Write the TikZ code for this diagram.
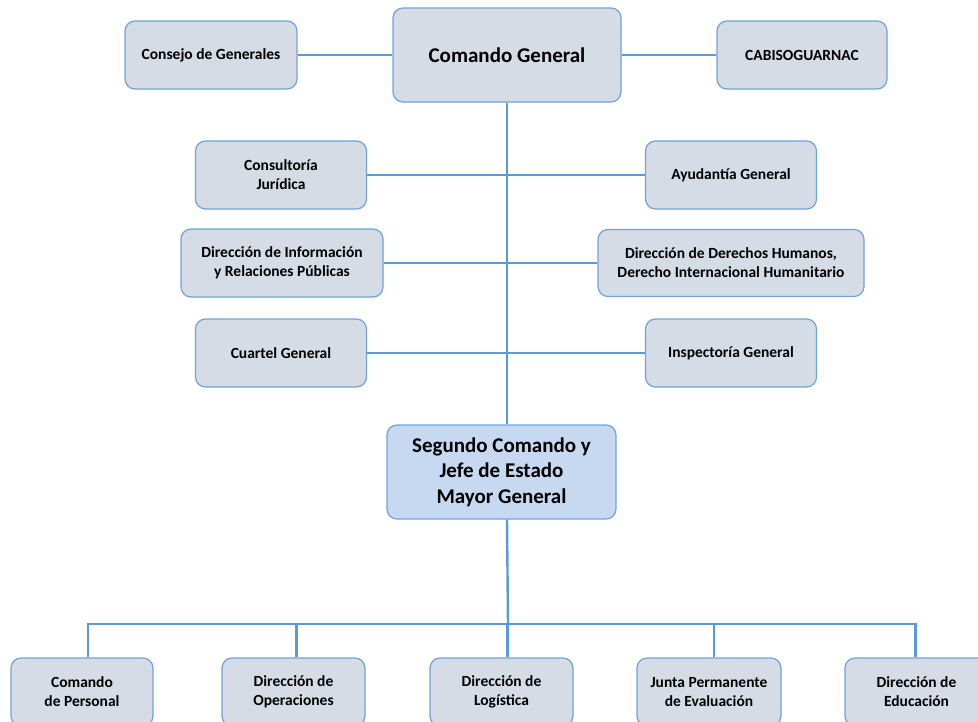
\documentclass[tikz,border=0pt]{standalone}
\usepackage{fontspec}
\setmainfont{Carlito}
\usetikzlibrary{positioning}
\definecolor{boxfill}{HTML}{D6DCE5}
\definecolor{boxfillb}{HTML}{C6D9F1}
\definecolor{boxline}{HTML}{6FA3DC}
\definecolor{linkline}{HTML}{5B9BD5}
\begin{document}
\begin{tikzpicture}[x=1pt, y=-1pt,
  unit/.style={draw=boxline, line width=1.2pt, fill=boxfill, rounded corners=10pt,
    align=center, inner sep=0pt, font=\bfseries\fontsize{15.5}{19}\selectfont},
  bigunit/.style={unit, font=\bfseries\fontsize{21}{25.5}\selectfont},
  link/.style={draw=linkline, line width=2.4pt}]
% Frame of the picture
\useasboundingbox (0,0) rectangle (978,721);
\clip (0,0) rectangle (978,721);
% Top level
\node [bigunit, minimum width=228, minimum height=94] (comando) at (507,55) {Comando General};
\node [unit, minimum width=172, minimum height=68] (consejo) at (211,55) {Consejo de Generales};
\node [unit, minimum width=170, minimum height=68] (cabiso) at (802,55) {CABISOGUARNAC};
\draw [link] (consejo.east) -- (comando.west);
\draw [link] (comando.east) -- (cabiso.west);
% Staff offices
\node [unit, minimum width=171, minimum height=68] (juridica) at (281,175) {Consultoría\\Jurídica};
\node [unit, minimum width=171, minimum height=68] (ayudantia) at (731,175) {Ayudantía General};
\node [unit, minimum width=202, minimum height=68] (informacion) at (282,263) {Dirección de Información\\y Relaciones Públicas};
\node [unit, minimum width=266, minimum height=67] (ddhh) at (731,263) {Dirección de Derechos Humanos,\\Derecho Internacional Humanitario};
\node [unit, minimum width=171, minimum height=68] (cuartel) at (281,353) {Cuartel General};
\node [unit, minimum width=171, minimum height=68] (inspectoria) at (731,353) {Inspectoría General};
\draw [link] (juridica.east) -- (ayudantia.west);
\draw [link] (informacion.east) -- (ddhh.west);
\draw [link] (cuartel.east) -- (inspectoria.west);
% Second command
\node [bigunit, fill=boxfillb, minimum width=229, minimum height=94] (segundo) at (501.5,472) {Segundo Comando y\\Jefe de Estado\\Mayor General};
\draw [link] (comando.south) -- (comando.south |- segundo.north);
% Directorates
\coordinate (bus) at (508,624);
\node [unit, minimum width=142, minimum height=68] (personal) at (82,692) {Comando\\de Personal};
\node [unit, minimum width=143, minimum height=68] (operaciones) at (293.5,692) {Dirección de\\Operaciones};
\node [unit, minimum width=143, minimum height=68] (logistica) at (501.5,692) {Dirección de\\Logística};
\node [unit, minimum width=144, minimum height=68] (junta) at (709,692) {Junta Permanente\\de Evaluación};
\node [unit, minimum width=143, minimum height=68] (educacion) at (916.5,692) {Dirección de\\Educación};
\draw [link] (comando.south |- segundo.south) -- (bus);
\draw [link] ([xshift=6pt]personal.north) |- (bus) -| ([xshift=-1pt]educacion.north);
\draw [link] ([xshift=3pt]operaciones.north) -- ([xshift=3pt]operaciones.north |- bus);
\draw [link] ([xshift=6pt]logistica.north) -- ([xshift=6pt]logistica.north |- bus);
\draw [link] ([xshift=5pt]junta.north) -- ([xshift=5pt]junta.north |- bus);
\end{tikzpicture}
\end{document}
